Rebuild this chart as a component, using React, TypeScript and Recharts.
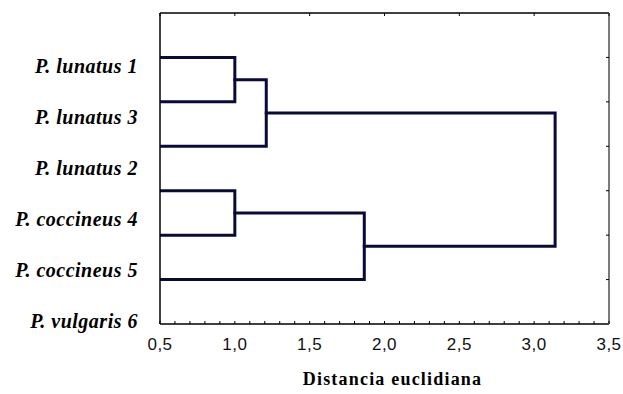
import React from "react";
import { ComposedChart, Line, XAxis, YAxis } from "recharts";

// ---- data ----
const leafLabels = [
  "P. lunatus 1",
  "P. lunatus 3",
  "P. lunatus 2",
  "P. coccineus 4",
  "P. coccineus 5",
  "P. vulgaris 6",
];
const labelTicks = [1, 2, 3, 4, 5, 6];
// dendrogram leaf rows (right axis positions)
const leafRows = [1, 2, 3, 4, 5, 6];
const leafHeight = 0.5;
// merges: children ("L#" = leaf index, "M#" = merge index) and joining distance
const mergeLeft = ["L0", "M0", "L3", "M2", "M1"];
const mergeRight = ["L1", "L2", "L4", "L5", "M3"];
const mergeHeights = [1.0, 1.21, 1.0, 1.865, 3.14];

const majorTicks = [0.5, 1.0, 1.5, 2.0, 2.5, 3.0, 3.5];
const majorLabels = ["0,5", "1,0", "1,5", "2,0", "2,5", "3,0", "3,5"];
const minorTicks = [
  0.6, 0.7, 0.8, 0.9, 1.1, 1.2, 1.3, 1.4, 1.6, 1.7, 1.8, 1.9, 2.1, 2.2, 2.3,
  2.4, 2.6, 2.7, 2.8, 2.9, 3.1, 3.2, 3.3, 3.4,
];
const xTitle = "Distancia euclidiana";

// ---- build dendrogram paths from merges ----
type Node = { row: number; h: number };
const mergeNodes: Node[] = [];
const getNode = (id: string): Node => {
  const i = parseInt(id.slice(1), 10);
  return id[0] === "L" ? { row: leafRows[i], h: leafHeight } : mergeNodes[i];
};
const mergePaths = mergeHeights.map((h, i) => {
  const a = getNode(mergeLeft[i]);
  const b = getNode(mergeRight[i]);
  mergeNodes[i] = { row: (a.row + b.row) / 2, h };
  return [
    { x: a.h, y: a.row },
    { x: h, y: a.row },
    { x: h, y: b.row },
    { x: b.h, y: b.row },
  ];
});
// anchor points so the label axis and top axis have data
const labelAnchor = labelTicks.map((k) => ({ x: leafHeight, y: k }));

const LINE = "#0a0a3a";

const BottomTick = (props: any) => {
  const { x, y, payload } = props;
  const idx = majorTicks.findIndex((t) => Math.abs(t - payload.value) < 1e-6);
  return (
    <g>
      <line x1={x} y1={y} x2={x} y2={y - 3} stroke="#000" strokeWidth={1} />
      {idx >= 0 && (
        <text
          x={x}
          y={y + 26}
          textAnchor="middle"
          fontFamily="'Liberation Sans', Arial, sans-serif"
          fontSize={17}
          letterSpacing={0.5}
          fill="#111"
        >
          {majorLabels[idx]}
        </text>
      )}
    </g>
  );
};

const TopTick = (props: any) => {
  const { x, y } = props;
  return <line x1={x} y1={y} x2={x} y2={y + 3} stroke="#000" strokeWidth={1} />;
};

const RightTick = (props: any) => {
  const { x, y } = props;
  return <line x1={x} y1={y} x2={x - 3} y2={y} stroke="#000" strokeWidth={1} />;
};

const LeftTick = (props: any) => {
  const { x, y, payload } = props;
  const idx = labelTicks.indexOf(payload.value);
  return (
    <text
      x={x - 22}
      y={y + 6}
      textAnchor="end"
      fontFamily="'Liberation Serif', 'Times New Roman', serif"
      fontSize={20}
      fontWeight="bold"
      fontStyle="italic"
      letterSpacing={0.5}
      fill="#000"
    >
      {idx >= 0 ? leafLabels[idx] : ""}
    </text>
  );
};

const TitleLabel = (props: any) => {
  const { x, y, width, height } = props.viewBox;
  return (
    <text
      x={x + width / 2 + 8}
      y={y + height - 9}
      textAnchor="middle"
      fontFamily="'Liberation Serif', 'Times New Roman', serif"
      fontSize={18}
      fontWeight="bold"
      letterSpacing={1.2}
      fill="#000"
    >
      {xTitle}
    </text>
  );
};

export default function App() {
  const allBottomTicks = [...majorTicks, ...minorTicks].sort((a, b) => a - b);
  return (
    <div style={{ position: "fixed", left: 0, top: 0, background: "#fff" }}>
      <ComposedChart
        width={623}
        height={394}
        margin={{ top: 12, right: 13, bottom: 0, left: 0 }}
      >
        <XAxis
          xAxisId="bottom"
          type="number"
          dataKey="x"
          domain={[0.5, 3.5]}
          ticks={allBottomTicks}
          interval={0}
          allowDataOverflow
          height={70}
          tickSize={0}
          tickMargin={0}
          tickLine={false}
          axisLine={{ stroke: "#000", strokeWidth: 1.5 }}
          tick={<BottomTick />}
          label={<TitleLabel />}
        />
        <XAxis
          xAxisId="top"
          orientation="top"
          type="number"
          dataKey="x"
          domain={[0.5, 3.5]}
          allowDataOverflow
          ticks={majorTicks}
          interval={0}
          height={1}
          tickSize={0}
          tickMargin={0}
          tickLine={false}
          axisLine={{ stroke: "#000", strokeWidth: 1.5 }}
          tick={<TopTick />}
        />
        <YAxis
          yAxisId="lab"
          orientation="left"
          type="number"
          dataKey="y"
          domain={[-0.07, 6.04]}
          allowDataOverflow
          reversed
          ticks={labelTicks}
          interval={0}
          width={160}
          tickSize={0}
          tickMargin={0}
          tickLine={false}
          axisLine={{ stroke: "#000", strokeWidth: 1.5 }}
          tick={<LeftTick />}
        />
        <YAxis
          yAxisId="r"
          orientation="right"
          type="number"
          domain={[0, 7]}
          allowDataOverflow
          reversed
          ticks={leafRows}
          interval={0}
          width={1}
          tickSize={0}
          tickMargin={0}
          tickLine={false}
          axisLine={{ stroke: "#7a7a7a", strokeWidth: 2 }}
          tick={<RightTick />}
        />
        <Line
          xAxisId="top"
          yAxisId="lab"
          data={labelAnchor}
          dataKey="y"
          stroke="none"
          strokeWidth={0}
          dot={false}
          activeDot={false}
          legendType="none"
          isAnimationActive={false}
        />
        {mergePaths.map((pts, i) => (
          <Line
            key={i}
            xAxisId="bottom"
            yAxisId="r"
            data={pts}
            dataKey="y"
            type="linear"
            stroke={LINE}
            strokeWidth={3}
            strokeLinejoin="miter"
            strokeLinecap="square"
            dot={false}
            activeDot={false}
            isAnimationActive={false}
          />
        ))}
      </ComposedChart>
    </div>
  );
}
